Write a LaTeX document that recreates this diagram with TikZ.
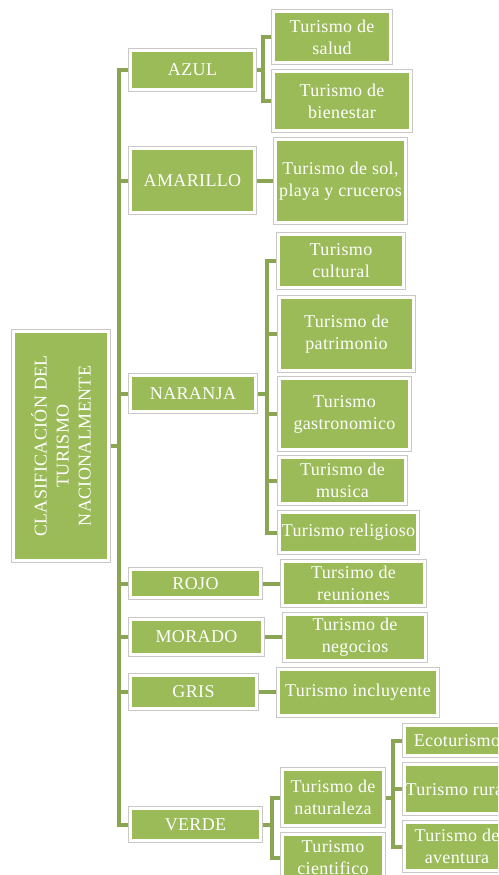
\documentclass[tikz,border=0pt]{standalone}
\usepackage{fontspec}
\setmainfont{Liberation Serif}[LetterSpace=2]
\usetikzlibrary{backgrounds}
\definecolor{boxgreen}{HTML}{9BBB59}
\definecolor{linegreen}{HTML}{8AA653}
\definecolor{framegray}{HTML}{C8C8C8}
\tikzset{
  box/.style={rectangle, fill=boxgreen, draw=white, line width=3pt,
    preaction={draw=framegray, line width=5pt}, text=white,
    font=\fontsize{18}{22}\selectfont, align=center, inner sep=0pt},
  wh/.style 2 args={minimum width=#1pt, minimum height=#2pt},
  conn/.style={draw=linegreen, line width=4pt},
}
\begin{document}
\begin{tikzpicture}[x=1pt, y=-1pt]
\useasboundingbox (0,0) rectangle (498,875);
\clip (0,0) rectangle (498,875);
% level 0
\node[box, wh={229}{95}, rotate=90] (root) at (61,446) {CLASIFICACIÓN DEL\\TURISMO\\NACIONALMENTE};
% level 1
\node[box, wh={124}{39}] (azul) at (192.5,70) {AZUL};
\node[box, wh={124}{64}] (amarillo) at (192.5,180.5) {AMARILLO};
\node[box, wh={125}{36}] (naranja) at (193,393.5) {NARANJA};
\node[box, wh={130}{28}] (rojo) at (195.5,583.5) {ROJO};
\node[box, wh={132}{35}] (morado) at (196.5,637) {MORADO};
\node[box, wh={126}{33}] (gris) at (193.5,692) {GRIS};
\node[box, wh={130}{32}] (verde) at (195.5,824.5) {VERDE};
% level 2
\node[box, wh={117}{51}] (salud) at (332,37) {Turismo de\\salud};
\node[box, wh={137}{59}] (bienestar) at (342,101) {Turismo de\\bienestar};
\node[box, wh={130}{83}] (sol) at (340.5,181) {Turismo de sol,\\playa y cruceros};
\node[box, wh={125}{53}] (cultural) at (341,261) {Turismo\\cultural};
\node[box, wh={134}{73}] (patrimonio) at (346.5,334) {Turismo de\\patrimonio};
\node[box, wh={130}{71}] (gastro) at (344.5,414) {Turismo\\gastronomico};
\node[box, wh={126}{46}] (musica) at (342.5,480.5) {Turismo de\\musica};
\node[box, wh={138}{40}] (religioso) at (348.5,532.5) {Turismo religioso};
\node[box, wh={142}{44}] (reuniones) at (353.5,583.5) {Tursimo de\\reuniones};
\node[box, wh={141}{46}] (negocios) at (355,637.5) {Turismo de\\negocios};
\node[box, wh={159}{46}] (incluyente) at (358,692.5) {Turismo incluyente};
\node[box, wh={101}{56}] (naturaleza) at (333,797.5) {Turismo de\\naturaleza};
\node[box, wh={101}{47}] (cientifico) at (333,858) {Turismo\\cientifico};
% level 3
\node[box, wh={105}{30}] (eco) at (457,740.5) {Ecoturismo};
\node[box, wh={105}{49}] (rural) at (457,789) {Turismo rural};
\node[box, wh={105}{48}] (aventura) at (457,846.5) {Turismo de\\aventura};
% bracket coordinates
\coordinate (t) at (119,0);
\coordinate (a) at (263,0);
\coordinate (n) at (267,0);
\coordinate (v) at (272,0);
\coordinate (w) at (393,0);
\begin{pgfonlayer}{background}
\fill[white] (0,0) rectangle (498,875);
% trunk
\draw[conn] (root.south) -- (root.south -| t);
\draw[conn] (azul.west) -| (verde.west -| t) -- (verde.west);
\foreach \k in {amarillo,naranja,rojo,morado,gris}
  \draw[conn] (\k.west) -- (\k.west -| t);
% azul
\draw[conn] (azul.east) -- (azul.east -| a);
\draw[conn] (salud.west) -| (bienestar.west -| a) -- (bienestar.west);
% amarillo
\draw[conn] (amarillo.east) -- (amarillo.east -| sol.west);
% naranja
\draw[conn] (naranja.east) -- (naranja.east -| n);
\draw[conn] (cultural.west) -| (religioso.west -| n) -- (religioso.west);
\foreach \k in {patrimonio,gastro,musica}
  \draw[conn] (\k.west) -- (\k.west -| n);
% rojo, morado, gris
\draw[conn] (rojo.east) -- (rojo.east -| reuniones.west);
\draw[conn] (morado.east) -- (morado.east -| negocios.west);
\draw[conn] (gris.east) -- (gris.east -| incluyente.west);
% verde
\draw[conn] (verde.east) -- (verde.east -| v);
\draw[conn] (naturaleza.west) -| (cientifico.west -| v) -- (cientifico.west);
% naturaleza
\draw[conn] (naturaleza.east) -- (naturaleza.east -| w);
\draw[conn] (eco.west) -| (aventura.west -| w) -- (aventura.west);
\draw[conn] (rural.west) -- (rural.west -| w);
\end{pgfonlayer}
\end{tikzpicture}
\end{document}
